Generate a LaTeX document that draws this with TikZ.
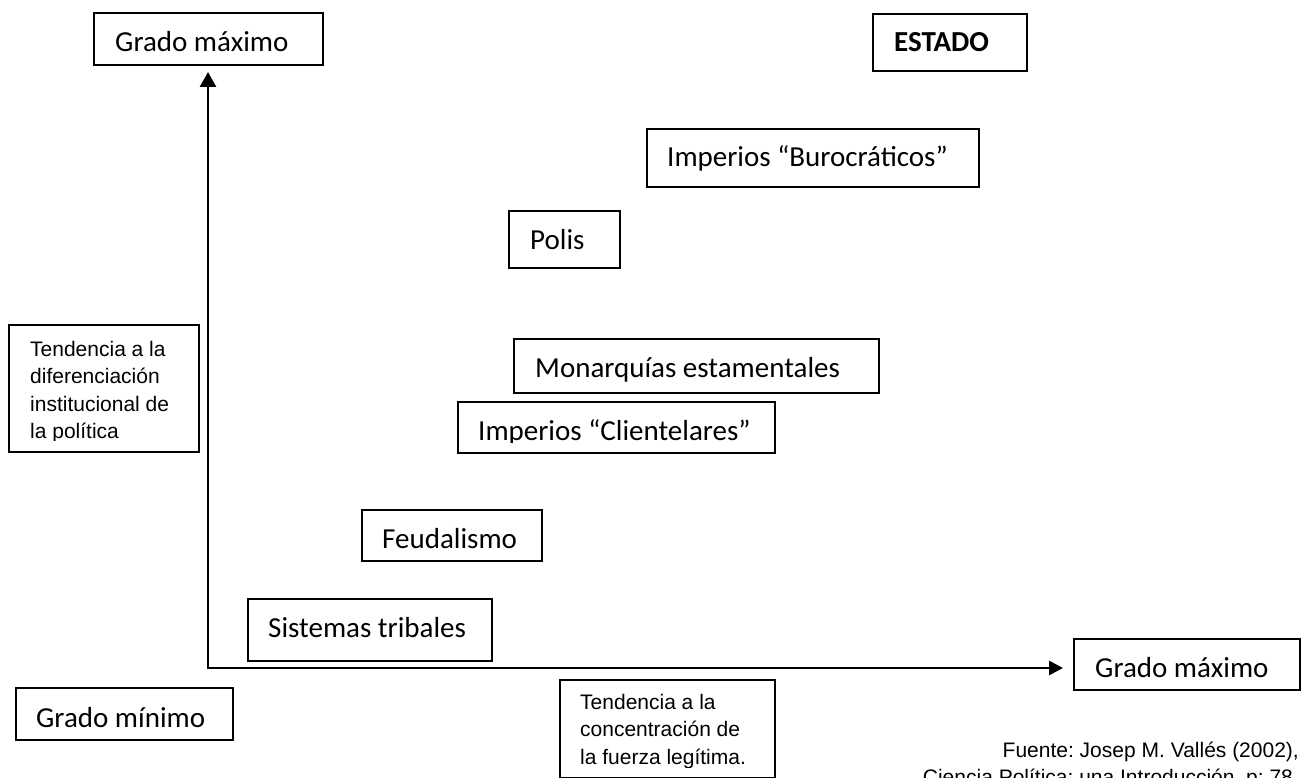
\documentclass[tikz,border=0pt]{standalone}
\usepackage{fontspec}
\setmainfont{Carlito}
\newfontfamily\arialfont{Liberation Sans}
\usetikzlibrary{calc,arrows.meta}
\tikzset{%
  tbox/.style={draw,line width=1.6pt,inner sep=0,anchor=north west},
  clab/.style={anchor=base west,inner sep=0,font=\fontsize{29}{35}\selectfont},
  alab/.style={anchor=base west,inner sep=0,align=left,font=\arialfont\frenchspacing\fontsize{21}{27.5}\selectfont},
  axis/.style={line width=2.7pt,{Triangle[length=15pt,width=16pt]}-{Triangle[length=14pt,width=14pt]}}
}

\begin{document}
\begin{tikzpicture}[x=1pt,y=-1pt]
  \useasboundingbox (0,0) rectangle (1301,778);
  % axes
  \coordinate (origin) at (208,668);
  \coordinate (ytip) at (208,72);
  \coordinate (xtip) at (1063,668);
  \draw[axis] (ytip) -- (origin) -- (xtip);
  % frames
  \path
    (93,12) node[tbox,minimum width=229pt,minimum height=52pt] (gmax_y) {}
    (872,13) node[tbox,minimum width=154pt,minimum height=57pt] (estado) {}
    (646,128) node[tbox,minimum width=332pt,minimum height=58pt] (imp_buro) {}
    (508,210) node[tbox,minimum width=111pt,minimum height=57pt] (polis) {}
    (513,338) node[tbox,minimum width=365pt,minimum height=54pt] (monarq) {}
    (457,401) node[tbox,minimum width=317pt,minimum height=51pt] (imp_clie) {}
    (361,509) node[tbox,minimum width=180pt,minimum height=51pt] (feudal) {}
    (247,598) node[tbox,minimum width=244pt,minimum height=62pt] (tribal) {}
    (1073,638) node[tbox,minimum width=226pt,minimum height=51pt] (gmax_x) {}
    (15,687) node[tbox,minimum width=217pt,minimum height=52pt] (gmin) {}
    (8,324) node[tbox,minimum width=190pt,minimum height=127pt] (tend_y) {}
    (559,679) node[tbox,minimum width=215pt,minimum height=98pt] (tend_x) {};
  % labels
  \node[clab] (gmax_y_t) at ($(gmax_y.north west)+(22,40)$) {Grado máximo};
  \node[clab] (estado_t) at ($(estado.north west)+(22,39)$) {\bfseries ESTADO};
  \node[clab] (imp_buro_t) at ($(imp_buro.north west)+(21,39)$) {Imperios “Burocráticos”};
  \node[clab] (polis_t) at ($(polis.north west)+(22,39)$) {Polis};
  \node[clab] (monarq_t) at ($(monarq.north west)+(22,39)$) {Monarquías estamentales};
  \begin{scope}
    \clip (imp_clie.north west) rectangle ($(imp_clie.south east)+(0,-11)$);
    \node[clab] (imp_clie_t) at ($(imp_clie.north west)+(21,39)$) {Imperios “Clientelares”};
  \end{scope}
  \node[clab] (feudal_t) at ($(feudal.north west)+(21,39)$) {Feudalismo};
  \node[clab] (tribal_t) at ($(tribal.north west)+(21,39)$) {Sistemas tribales};
  \node[clab] (gmax_x_t) at ($(gmax_x.north west)+(22,39)$) {Grado máximo};
  \node[clab] (gmin_t) at ($(gmin.north west)+(21,40)$) {Grado mínimo};
  % multi-line labels sit on their last line
  \begin{scope}
    \clip (tend_y.north west) rectangle ($(tend_y.south east)+(0,-12)$);
    \node[alab] (tend_y_t) at ($(tend_y.north west)+(22,114.5)$)
      {Tendencia a la\\diferenciación\\institucional de\\la política};
  \end{scope}
  \begin{scope}
    \clip (tend_x.north west) rectangle ($(tend_x.south east)+(0,-11)$);
    \node[alab] (tend_x_t) at ($(tend_x.north west)+(21,85)$)
      {Tendencia a la\\concentración de\\la fuerza legítima.};
  \end{scope}
  % source
  \node[alab,anchor=base east] (fuente1) at (1299,757) {Fuente: Josep M. Vallés (2002),};
  \node[alab,anchor=base east] (fuente2) at (1299,784) {Ciencia Política: una Introducción, p: 78.};
\end{tikzpicture}
\end{document}
